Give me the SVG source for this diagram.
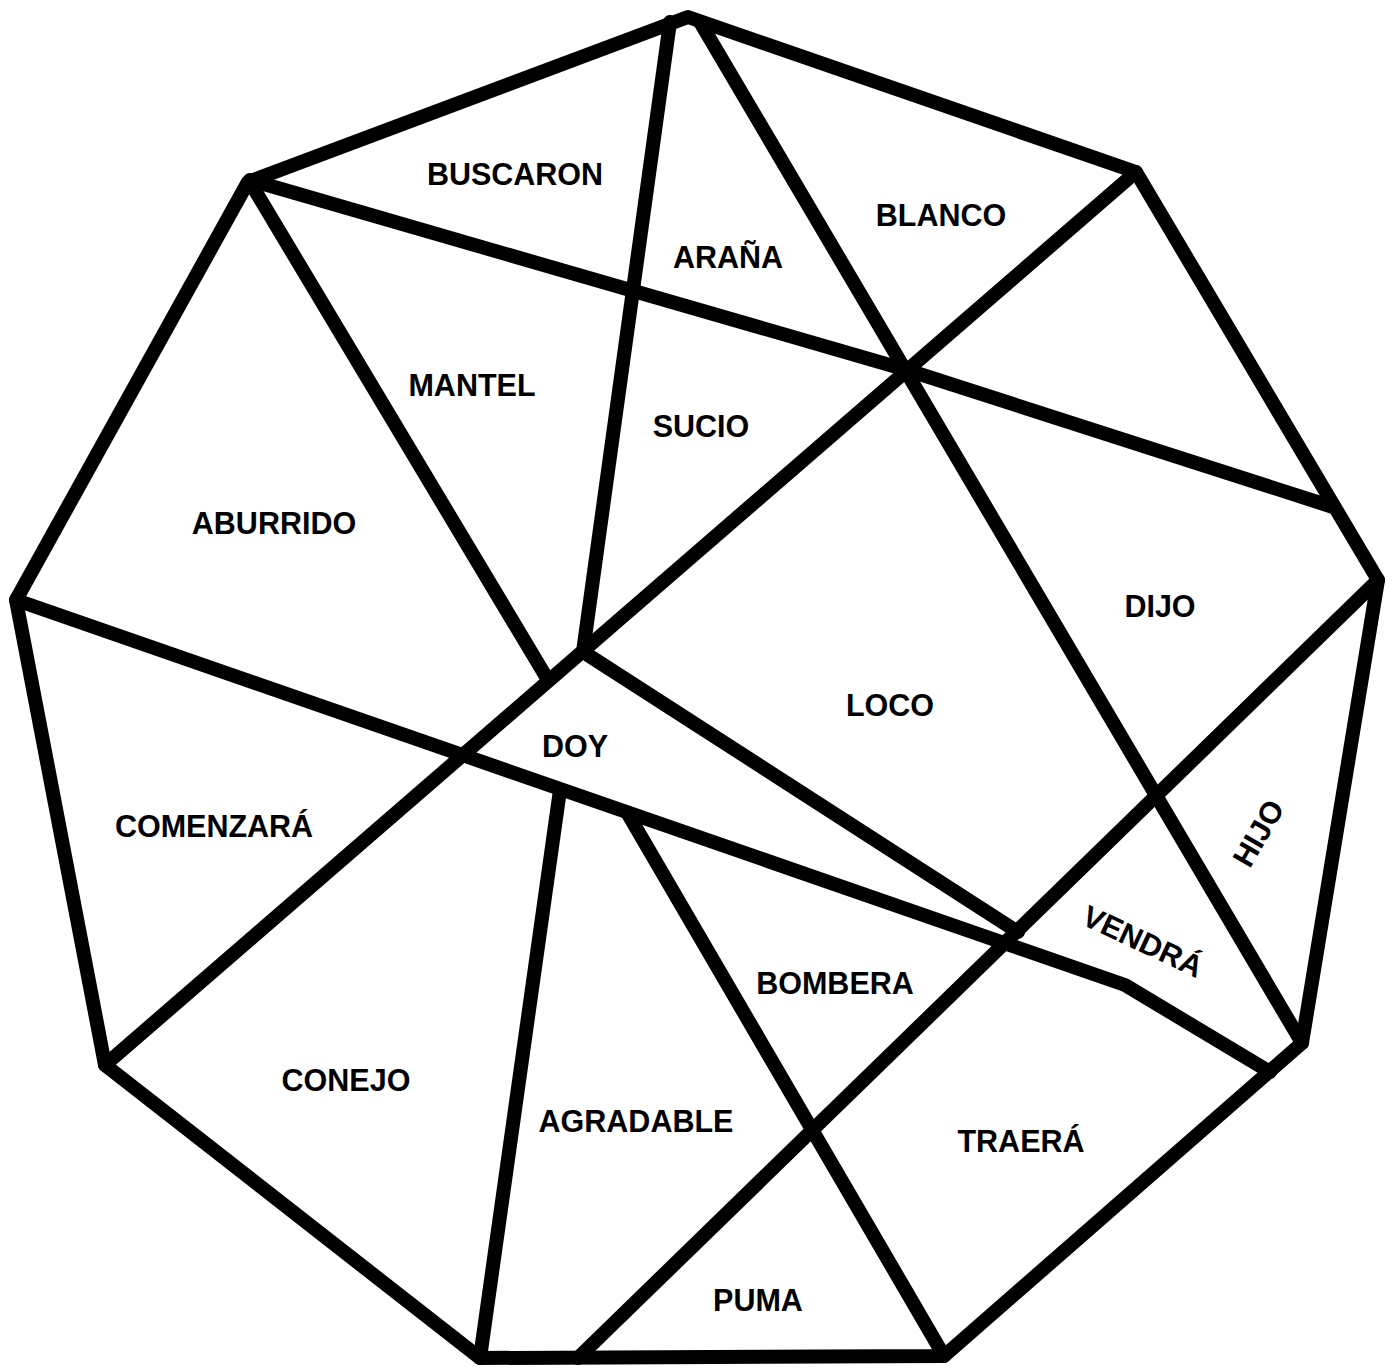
<svg xmlns="http://www.w3.org/2000/svg" width="1396" height="1371" viewBox="0 0 1396 1371">
<style>
.ln{fill:none;stroke:#000;stroke-width:14;stroke-linecap:round;stroke-linejoin:round}
.lb{font-family:"Liberation Sans",Arial,sans-serif;font-weight:bold;font-size:30.5px;fill:#000;text-anchor:middle}
</style>
<rect width="1396" height="1371" fill="#fff"/>
<g id="connectors">
<polygon class="ln" points="688,17 1136,172 1378,580 1302,1043 944,1356 480,1358 105,1065 16,600 248,182"/>
<polyline class="ln" points="250,180 907,370 1333,507"/>
<line class="ln" x1="670" y1="22" x2="583" y2="652"/>
<line class="ln" x1="700" y1="22" x2="1302" y2="1043"/>
<line class="ln" x1="1136" y1="172" x2="105" y2="1065"/>
<line class="ln" x1="588" y1="655" x2="1018" y2="932"/>
<polyline class="ln" points="16,600 1125,985 1270,1072"/>
<line class="ln" x1="1378" y1="580" x2="578" y2="1358"/>
<line class="ln" x1="628" y1="814" x2="944" y2="1356"/>
<line class="ln" x1="560" y1="790" x2="480" y2="1358"/>
<line class="ln" x1="250" y1="182" x2="548" y2="680"/>
</g>
<g id="n-buscaron"><text class="lb" x="515" y="185">BUSCARON</text></g>
<g id="n-arana"><text class="lb" x="728" y="268">ARAÑA</text></g>
<g id="n-blanco"><text class="lb" x="941" y="226">BLANCO</text></g>
<g id="n-mantel"><text class="lb" x="472" y="396">MANTEL</text></g>
<g id="n-sucio"><text class="lb" x="701" y="437">SUCIO</text></g>
<g id="n-aburrido"><text class="lb" x="274" y="534">ABURRIDO</text></g>
<g id="n-dijo"><text class="lb" x="1160" y="617">DIJO</text></g>
<g id="n-loco"><text class="lb" x="890" y="716">LOCO</text></g>
<g id="n-doy"><text class="lb" x="575" y="757">DOY</text></g>
<g id="n-comenzara"><text class="lb" x="214" y="837">COMENZARÁ</text></g>
<g id="n-hijo"><text class="lb" transform="translate(1258,833) rotate(-60)" x="0" y="11">HIJO</text></g>
<g id="n-vendra"><text class="lb" transform="translate(1143,941) rotate(25)" x="0" y="11">VENDRÁ</text></g>
<g id="n-bombera"><text class="lb" x="835" y="994">BOMBERA</text></g>
<g id="n-conejo"><text class="lb" x="346" y="1091">CONEJO</text></g>
<g id="n-agradable"><text class="lb" x="636" y="1132">AGRADABLE</text></g>
<g id="n-traera"><text class="lb" x="1021" y="1152">TRAERÁ</text></g>
<g id="n-puma"><text class="lb" x="758" y="1311">PUMA</text></g>
</svg>
